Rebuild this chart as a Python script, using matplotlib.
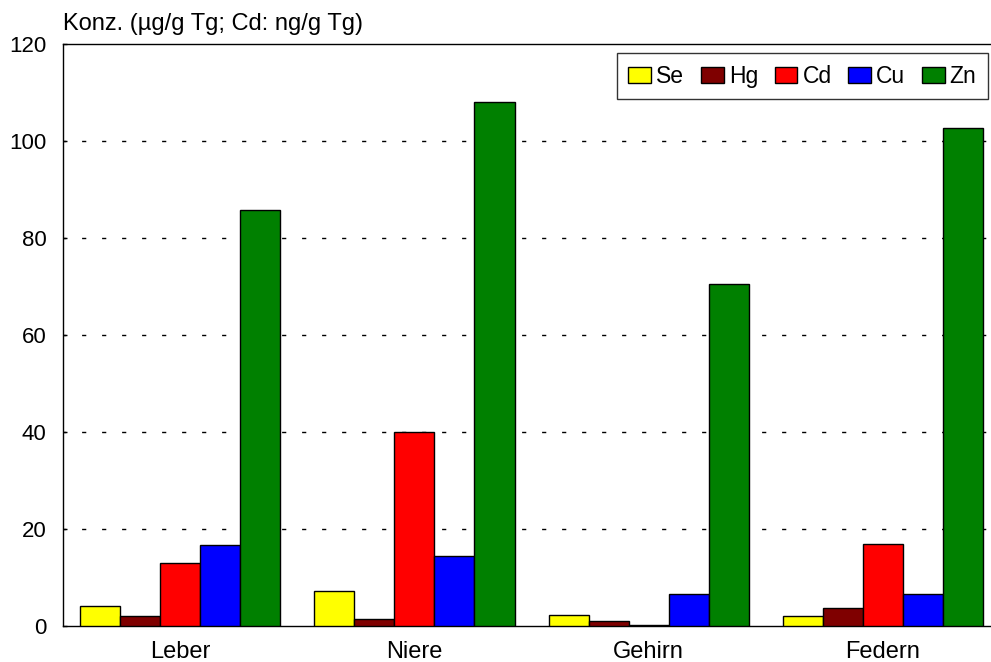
import numpy as np
import matplotlib
matplotlib.use('Agg')
from matplotlib import pyplot as plt

# data
categories = ['Leber', 'Niere', 'Gehirn', 'Federn']
series = ['Se', 'Hg', 'Cd', 'Cu', 'Zn']
se = [4.2, 7.3, 2.2, 2.1]
hg = [2.0, 1.4, 0.95, 3.7]
cd = [12.9, 40.0, 0.2, 17.0]
cu = [16.6, 14.4, 6.6, 6.6]
zn = [85.7, 108.0, 70.5, 102.6]
colors = ['#ffff00', '#7f0000', '#ff0000', '#0000ff', '#008000']

plt.rcParams['font.family'] = ['Liberation Sans', 'DejaVu Sans']

fig = plt.figure(figsize=(9.91, 6.62), dpi=100)
# right edge of the plot runs slightly past the picture, as in the reference
ax = fig.add_axes([0.0636, 0.0544, 0.9455, 0.879])

x = np.arange(len(categories))
width = 0.171
for i, (name, vals) in enumerate(zip(series, [se, hg, cd, cu, zn])):
    ax.bar(x + (i - 2) * width, vals, width, color=colors[i], edgecolor='black',
           linewidth=1, label=name, zorder=3)

ax.set_xlim(-0.5, 3.5)
ax.set_ylim(0, 120)
ax.set_yticks([0, 20, 40, 60, 80, 100, 120])
ax.set_xticks(x)
ax.set_xticklabels(categories)
ax.tick_params(axis='x', length=0, labelsize=17, pad=11)
ax.tick_params(axis='y', direction='in', length=3, width=1, labelsize=16, pad=12)
ax.yaxis.grid(True, linestyle=(1, (3, 11.4)), color='black', linewidth=1, zorder=0)
# no dashed line on top of the frame at 0 and 120
gl = ax.get_ygridlines()
gl[0].set_visible(False)
gl[-1].set_visible(False)
for s in ['top', 'left', 'bottom']:
    ax.spines[s].set_linewidth(1)
ax.spines['right'].set_visible(False)

ax.text(0.0, 1.015, 'Konz. (\u00b5g/g Tg; Cd: ng/g Tg)', transform=ax.transAxes,
        fontsize=17, ha='left', va='bottom')

leg = ax.legend(loc='upper right', ncol=5, fontsize=16.5, frameon=True, fancybox=False,
                edgecolor='black', handlelength=1.0, handleheight=0.7, handletextpad=0.22,
                columnspacing=0.72, borderpad=0.5, borderaxespad=0,
                bbox_to_anchor=(0.987, 0.9845))
leg.get_frame().set_linewidth(1)

fig.savefig('out.png', dpi=100)
